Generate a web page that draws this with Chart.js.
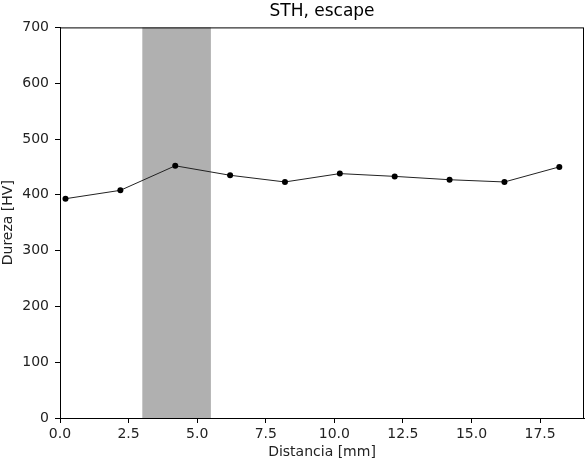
<!DOCTYPE html>
<html>
<head>
<meta charset="utf-8">
<script src="https://cdn.jsdelivr.net/npm/chart.js@4/dist/chart.umd.min.js"></script>
<style>
  html, body { margin: 0; padding: 0; background: #fff; }
  #wrap { width: 588px; height: 461px; }
</style>
</head>
<body>
<div id="wrap"><canvas id="hvChart"></canvas></div>
<script>
// data
const distancia = [0.2, 2.2, 4.2, 6.2, 8.2, 10.2, 12.2, 14.2, 16.2, 18.2];
const dureza = [393, 408, 452, 435, 423, 438, 433, 427, 423, 450];
const zonaSombreada = [3.0, 5.5];
const xTicks = [0, 2.5, 5, 7.5, 10, 12.5, 15, 17.5];
const yTicks = [0, 100, 200, 300, 400, 500, 600, 700];

const font = "'DejaVu Sans', sans-serif";

// shaded band behind the line + frame around the plot
const bandPlugin = {
    id: "band",
    beforeDatasetsDraw(chart) {
        const ctx = chart.ctx;
        const area = chart.chartArea;
        const x = chart.scales.x;
        const x0 = x.getPixelForValue(zonaSombreada[0]);
        const x1 = x.getPixelForValue(zonaSombreada[1]);
        ctx.save();
        ctx.fillStyle = "#b0b0b0";
        ctx.fillRect(x0, area.top, x1 - x0, area.bottom - area.top);
        ctx.restore();
    },
    afterDraw(chart) {
        const ctx = chart.ctx;
        const a = chart.chartArea;
        ctx.save();
        ctx.strokeStyle = "#000";
        ctx.lineWidth = 1;
        ctx.strokeRect(a.left + 0.5, a.top + 0.5, a.right - a.left - 1, a.bottom - a.top);
        ctx.restore();
    }
};

new Chart(document.getElementById("hvChart"), {
    type: "scatter",
    data: {
        datasets: [{
            data: distancia.map((d, i) => ({ x: d, y: dureza[i] })),
            showLine: true,
            borderColor: "#222",
            borderWidth: 1,
            backgroundColor: "#000",
            pointBackgroundColor: "#000",
            pointBorderWidth: 0,
            pointRadius: 3
        }]
    },
    options: {
        responsive: true,
        maintainAspectRatio: false,
        animation: false,
        layout: { padding: { left: 0, right: 3, top: 0, bottom: 0 } },
        plugins: {
            legend: { display: false },
            tooltip: { enabled: false },
            title: {
                display: true,
                text: "STH, escape",
                fullSize: false,
                color: "#000",
                font: { family: font, size: 17, weight: "normal" },
                padding: { top: 1, bottom: 6 }
            }
        },
        scales: {
            x: {
                type: "linear",
                min: 0,
                max: 19.1,
                afterBuildTicks(scale) {
                    scale.ticks = xTicks.map(v => ({ value: v }));
                },
                afterFit(scale) { scale.height = 43; },
                grid: { drawOnChartArea: false, drawTicks: true, tickLength: 5, color: "#000" },
                border: { display: true, color: "#000" },
                ticks: {
                    color: "#222",
                    padding: 3,
                    maxRotation: 0,
                    font: { family: font, size: 14 },
                    callback: v => v.toFixed(1)
                },
                title: {
                    display: true,
                    text: "Distancia [mm]",
                    color: "#222",
                    padding: { top: 1, bottom: 0 },
                    font: { family: font, size: 14 }
                }
            },
            y: {
                min: 0,
                max: 700,
                afterBuildTicks(scale) {
                    scale.ticks = yTicks.map(v => ({ value: v }));
                },
                afterFit(scale) { scale.width = 60; },
                grid: { drawOnChartArea: false, drawTicks: true, tickLength: 5, color: "#000" },
                border: { display: true, color: "#000" },
                ticks: {
                    color: "#222",
                    padding: 6,
                    font: { family: font, size: 14 }
                },
                title: {
                    display: true,
                    text: "Dureza [HV]",
                    color: "#222",
                    padding: { top: 0, bottom: 1 },
                    font: { family: font, size: 14 }
                }
            }
        }
    },
    plugins: [bandPlugin]
});
</script>
</body>
</html>
